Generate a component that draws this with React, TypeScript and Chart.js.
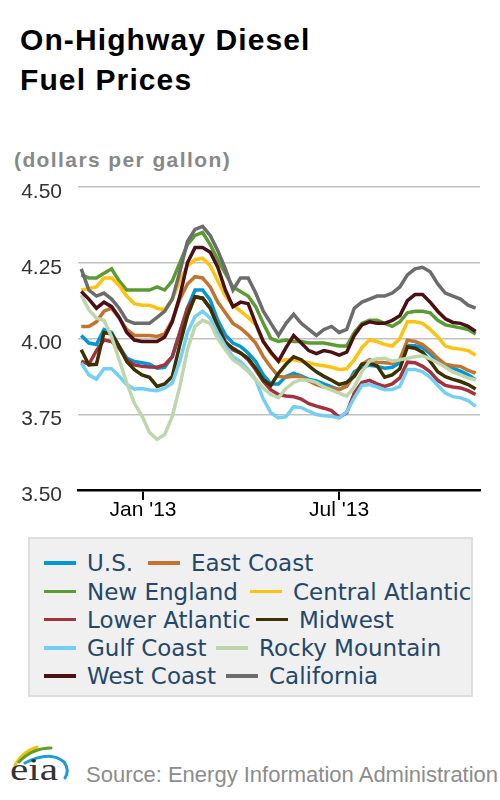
import React, { useEffect, useRef } from "react";
import { Chart, registerables } from "chart.js";

Chart.register(...registerables);

// ---- data ----
const weekDates = [
  "2012-11-05", "2012-11-12", "2012-11-19", "2012-11-26", "2012-12-03", "2012-12-10", "2012-12-17", "2012-12-24", "2012-12-31",
  "2013-01-07", "2013-01-14", "2013-01-21", "2013-01-28", "2013-02-04", "2013-02-11", "2013-02-18", "2013-02-25",
  "2013-03-04", "2013-03-11", "2013-03-18", "2013-03-25", "2013-04-01", "2013-04-08", "2013-04-15", "2013-04-22", "2013-04-29",
  "2013-05-06", "2013-05-13", "2013-05-20", "2013-05-27", "2013-06-03", "2013-06-10", "2013-06-17", "2013-06-24",
  "2013-07-01", "2013-07-08", "2013-07-15", "2013-07-22", "2013-07-29", "2013-08-05", "2013-08-12", "2013-08-19", "2013-08-26",
  "2013-09-02", "2013-09-09", "2013-09-16", "2013-09-23", "2013-09-30", "2013-10-07", "2013-10-14", "2013-10-21", "2013-10-28",
  "2013-11-04",
];

const usPrices = [
  4.01, 3.985, 3.98, 4.03, 4.02, 3.974, 3.935, 3.924, 3.92, 3.915,
  3.902, 3.905, 3.94, 4.02, 4.10, 4.16, 4.16, 4.127, 4.06, 4.012,
  3.985, 3.974, 3.952, 3.924, 3.88, 3.85, 3.85, 3.875, 3.885, 3.877,
  3.865, 3.86, 3.85, 3.84, 3.831, 3.845, 3.89, 3.905, 3.912, 3.908,
  3.902, 3.905, 3.92, 3.977, 3.976, 3.97, 3.95, 3.925, 3.912, 3.902,
  3.892, 3.88, 3.864,
];
const eastCoastPrices = [
  4.04, 4.04, 4.055, 4.09, 4.10, 4.067, 4.03, 4.01, 4.01, 4.01,
  4.007, 4.015, 4.06, 4.13, 4.18, 4.204, 4.20, 4.17, 4.12, 4.085,
  4.05, 4.034, 4.012, 3.985, 3.94, 3.905, 3.875, 3.872, 3.875, 3.874,
  3.86, 3.848, 3.84, 3.836, 3.831, 3.842, 3.88, 3.915, 3.93, 3.922,
  3.92, 3.918, 3.93, 3.994, 3.99, 3.98, 3.96, 3.935, 3.915, 3.91,
  3.908, 3.895, 3.886,
];
const newEnglandPrices = [
  4.21, 4.20, 4.20, 4.215, 4.23, 4.19, 4.16, 4.16, 4.16, 4.16,
  4.17, 4.16, 4.19, 4.25, 4.31, 4.34, 4.35, 4.31, 4.26, 4.215,
  4.17, 4.155, 4.14, 4.105, 4.05, 4.00, 3.99, 3.995, 3.99, 3.99,
  3.985, 3.985, 3.985, 3.98, 3.975, 3.975, 4.02, 4.05, 4.06, 4.06,
  4.05, 4.04, 4.055, 4.085, 4.09, 4.09, 4.085, 4.06, 4.045, 4.04,
  4.035, 4.03, 4.015,
];
const centralAtlanticPrices = [
  4.16, 4.165, 4.17, 4.20, 4.20, 4.175, 4.14, 4.115, 4.11, 4.11,
  4.10, 4.095, 4.13, 4.19, 4.24, 4.26, 4.265, 4.24, 4.19, 4.14,
  4.11, 4.09, 4.07, 4.045, 3.99, 3.95, 3.925, 3.93, 3.93, 3.925,
  3.92, 3.913, 3.91, 3.905, 3.898, 3.90, 3.93, 3.97, 3.995, 3.99,
  3.98, 3.975, 4.00, 4.055, 4.055, 4.05, 4.03, 4.005, 3.975, 3.968,
  3.965, 3.96, 3.945,
];
const lowerAtlanticPrices = [
  3.925, 3.915, 3.96, 3.995, 3.99, 3.968, 3.93, 3.913, 3.908, 3.906,
  3.905, 3.913, 3.94, 4.02, 4.10, 4.138, 4.133, 4.10, 4.04, 3.99,
  3.963, 3.952, 3.93, 3.897, 3.858, 3.83, 3.815, 3.81, 3.808, 3.80,
  3.785, 3.777, 3.77, 3.762, 3.74, 3.755, 3.82, 3.855, 3.862, 3.85,
  3.842, 3.85, 3.87, 3.922, 3.92, 3.908, 3.89, 3.862, 3.845, 3.84,
  3.837, 3.828, 3.815,
];
const midwestPrices = [
  3.963, 3.913, 3.915, 4.02, 4.015, 3.974, 3.924, 3.897, 3.88, 3.872,
  3.842, 3.85, 3.875, 3.98, 4.075, 4.138, 4.133, 4.10, 4.04, 3.985,
  3.968, 3.952, 3.935, 3.902, 3.864, 3.845, 3.885, 3.915, 3.94, 3.93,
  3.91, 3.89, 3.875, 3.862, 3.848, 3.855, 3.875, 3.915, 3.918, 3.91,
  3.872, 3.88, 3.90, 3.972, 3.968, 3.955, 3.925, 3.89, 3.874, 3.865,
  3.858, 3.848, 3.833,
];
const gulfCoastPrices = [
  3.919, 3.88, 3.866, 3.90, 3.90, 3.875, 3.848, 3.833, 3.835, 3.83,
  3.828, 3.836, 3.853, 3.925, 4.02, 4.072, 4.09, 4.067, 4.018, 3.975,
  3.94, 3.924, 3.897, 3.864, 3.80, 3.755, 3.738, 3.742, 3.775, 3.772,
  3.76, 3.749, 3.745, 3.743, 3.738, 3.758, 3.805, 3.845, 3.848, 3.84,
  3.831, 3.832, 3.842, 3.898, 3.898, 3.89, 3.872, 3.845, 3.82, 3.808,
  3.804, 3.795, 3.776,
];
const rockyMountainPrices = [
  4.144, 4.095, 4.067, 4.06, 4.005, 3.93, 3.853, 3.787, 3.745, 3.69,
  3.667, 3.683, 3.743, 3.842, 3.963, 4.04, 4.06, 4.05, 4.00, 3.963,
  3.93, 3.913, 3.891, 3.864, 3.836, 3.815, 3.805, 3.835, 3.855, 3.864,
  3.862, 3.855, 3.84, 3.83, 3.82, 3.81, 3.84, 3.89, 3.925, 3.933,
  3.935, 3.925, 3.93, 3.935, 3.94, 3.943, 3.933, 3.92, 3.905, 3.89,
  3.88, 3.87, 3.864,
];
const westCoastPrices = [
  4.155, 4.13, 4.10, 4.12, 4.105, 4.07, 4.02, 3.995, 3.99, 3.99,
  3.99, 4.005, 4.055, 4.14, 4.25, 4.30, 4.30, 4.285, 4.235, 4.16,
  4.105, 4.12, 4.115, 4.05, 3.99, 3.955, 3.925, 3.97, 4.01, 3.985,
  3.96, 3.95, 3.96, 3.955, 3.945, 3.955, 4.01, 4.045, 4.055, 4.05,
  4.05, 4.06, 4.075, 4.125, 4.145, 4.145, 4.12, 4.09, 4.065, 4.053,
  4.05, 4.04, 4.023,
];
const californiaPrices = [
  4.23, 4.16, 4.14, 4.15, 4.13, 4.10, 4.06, 4.05, 4.05, 4.05,
  4.07, 4.09, 4.13, 4.22, 4.32, 4.36, 4.37, 4.34, 4.29, 4.23,
  4.16, 4.20, 4.20, 4.15, 4.09, 4.05, 4.01, 4.05, 4.08, 4.05,
  4.03, 4.01, 4.03, 4.04, 4.02, 4.03, 4.10, 4.12, 4.13, 4.14,
  4.14, 4.15, 4.17, 4.21, 4.23, 4.235, 4.22, 4.18, 4.15, 4.14,
  4.13, 4.11, 4.10,
];

const seriesNames = [
  "U.S.", "East Coast", "New England", "Central Atlantic", "Lower Atlantic",
  "Midwest", "Gulf Coast", "Rocky Mountain", "West Coast", "California",
];
const seriesValues = [
  usPrices, eastCoastPrices, newEnglandPrices, centralAtlanticPrices, lowerAtlanticPrices,
  midwestPrices, gulfCoastPrices, rockyMountainPrices, westCoastPrices, californiaPrices,
];
const seriesColors = [
  "#0097d6", "#c2732f", "#5b9c32", "#ffc20f", "#a3323f",
  "#3d3100", "#74cff5", "#bdd6ac", "#4b0f16", "#6c6c6c",
];

const xTickDates = ["2013-01-01", "2013-07-01"];
const xTickLabels = ["Jan '13", "Jul '13"];
const xRangeDates = ["2012-11-02", "2013-11-08"];
const yTickValues = [3.5, 3.75, 4.0, 4.25, 4.5];

// ---- layout ----
const legendRows = [[0, 1], [2, 3], [4, 5], [6, 7], [8, 9]];
const legendRowCenters = [563, 591.5, 619.5, 648, 676];
const legendSecondLeft = [148, 250, 256, 216, 226];

const SANS = "'Liberation Sans', Arial, Helvetica, sans-serif";

const dayOf = (s: string) => {
  const [y, m, d] = s.split("-").map(Number);
  return Math.round((Date.UTC(y, m - 1, d) - Date.UTC(2013, 0, 1)) / 86400000);
};

function DieselChart() {
  const ref = useRef<HTMLCanvasElement | null>(null);

  useEffect(() => {
    if (!ref.current) return;
    const xDays = weekDates.map(dayOf);
    const xTickDays = xTickDates.map(dayOf);
    const n = seriesNames.length;

    const chart = new Chart(ref.current, {
      type: "line",
      data: {
        datasets: seriesNames.map((name, si) => ({
          label: name,
          data: seriesValues[si].map((v, i) => ({ x: xDays[i], y: v })),
          borderColor: seriesColors[si],
          backgroundColor: seriesColors[si],
          borderWidth: 3.5,
          pointRadius: 0,
          tension: 0,
          fill: false,
          order: n - si,
        })),
      },
      options: {
        animation: false,
        responsive: false,
        maintainAspectRatio: false,
        events: [],
        layout: { padding: { top: 17, right: 20, left: 0, bottom: 0 } },
        plugins: {
          legend: { display: false },
          tooltip: { enabled: false },
          title: { display: false },
        },
        scales: {
          x: {
            type: "linear",
            min: dayOf(xRangeDates[0]),
            max: dayOf(xRangeDates[1]),
            afterBuildTicks: (scale: any) => {
              scale.ticks = xTickDays.map((v) => ({ value: v }));
            },
            afterFit: (scale: any) => {
              scale.height = 40;
              scale.paddingLeft = 0;
              scale.paddingRight = 0;
            },
            grid: {
              drawOnChartArea: false,
              drawTicks: true,
              tickLength: 10,
              color: "#000000",
              lineWidth: 2,
            },
            border: { display: true, color: "#000000", width: 2.5 },
            ticks: {
              autoSkip: false,
              maxRotation: 0,
              padding: 0,
              color: "#000000",
              font: { family: SANS, size: 21, lineHeight: 1 },
              callback: (v: any) => {
                const k = xTickDays.indexOf(Number(v));
                return k >= 0 ? xTickLabels[k] : "";
              },
            },
          },
          y: {
            min: yTickValues[0],
            max: yTickValues[yTickValues.length - 1],
            afterBuildTicks: (scale: any) => {
              scale.ticks = yTickValues.map((v) => ({ value: v }));
            },
            afterFit: (scale: any) => {
              scale.width = 78;
              scale.paddingTop = 0;
              scale.paddingBottom = 0;
            },
            grid: { color: "#c2c2c2", lineWidth: 1.5, drawTicks: false },
            border: { display: false },
            ticks: {
              padding: 16,
              labelOffset: 5,
              color: "#333333",
              font: { family: SANS, size: 21 },
              callback: (v: any) => Number(v).toFixed(2),
            },
          },
        },
      } as any,
    });
    return () => chart.destroy();
  }, []);

  return (
    <canvas
      ref={ref}
      width={500}
      height={360}
      style={{ position: "absolute", left: 0, top: 170, width: 500, height: 360 }}
    />
  );
}

function EiaLogo() {
  return (
    <svg
      width={90}
      height={65}
      viewBox="0 0 90 65"
      style={{ position: "absolute", left: 0, top: 735 }}
    >
      <path d="M15,30 Q22,17 37,12" stroke="#f4c300" strokeWidth={3} fill="none" strokeLinecap="round" />
      <path d="M19,27 Q32,13 51,13" stroke="#5a9d33" strokeWidth={3} fill="none" strokeLinecap="round" />
      <path d="M25,28 Q50,15 64,27 Q70,35 65,43" stroke="#1c9bd7" strokeWidth={3} fill="none" strokeLinecap="round" />
      <text
        x={10}
        y={45}
        fontFamily="'Liberation Serif', 'DejaVu Serif', serif"
        fontSize={31}
        textLength={48}
        lengthAdjust="spacingAndGlyphs"
        fill="#333333"
      >
        eia
      </text>
    </svg>
  );
}

export default function App() {
  return (
    <div
      style={{
        position: "absolute",
        left: 0,
        top: 0,
        width: 500,
        height: 800,
        background: "#ffffff",
        overflow: "hidden",
        fontFamily: SANS,
      }}
    >
      <div
        style={{
          position: "absolute",
          left: 20,
          top: 20,
          fontSize: 30,
          lineHeight: "40px",
          fontWeight: 700,
          letterSpacing: 1.1,
          color: "#000000",
          whiteSpace: "nowrap",
        }}
      >
        On-Highway Diesel
        <br />
        Fuel Prices
      </div>
      <div
        style={{
          position: "absolute",
          left: 14,
          top: 148,
          fontSize: 21,
          lineHeight: "24px",
          fontWeight: 700,
          letterSpacing: 1.4,
          color: "#888888",
          whiteSpace: "nowrap",
        }}
      >
        (dollars per gallon)
      </div>

      <DieselChart />

      <div
        style={{
          position: "absolute",
          left: 28,
          top: 537,
          width: 445,
          height: 160,
          background: "#f0f0f0",
          border: "2px solid #dddddd",
          boxSizing: "border-box",
        }}
      />
      {legendRows.map((row, r) =>
        row.map((si, c) => (
          <div
            key={seriesNames[si]}
            style={{
              position: "absolute",
              left: c === 0 ? 44 : legendSecondLeft[r],
              top: legendRowCenters[r] - 14,
              height: 28,
              display: "flex",
              alignItems: "center",
              whiteSpace: "nowrap",
              fontFamily: "'DejaVu Sans', Verdana, sans-serif",
              fontSize: 23,
              lineHeight: "28px",
              color: "#25476a",
            }}
          >
            <span
              style={{
                display: "inline-block",
                width: 32,
                height: 3.5,
                background: seriesColors[si],
                marginRight: 11,
              }}
            />
            <span>{seriesNames[si]}</span>
          </div>
        ))
      )}

      <EiaLogo />
      <div
        style={{
          position: "absolute",
          left: 86,
          top: 762,
          fontSize: 22,
          lineHeight: "26px",
          color: "#8c8c8c",
          whiteSpace: "nowrap",
        }}
      >
        Source: Energy Information Administration
      </div>
    </div>
  );
}
